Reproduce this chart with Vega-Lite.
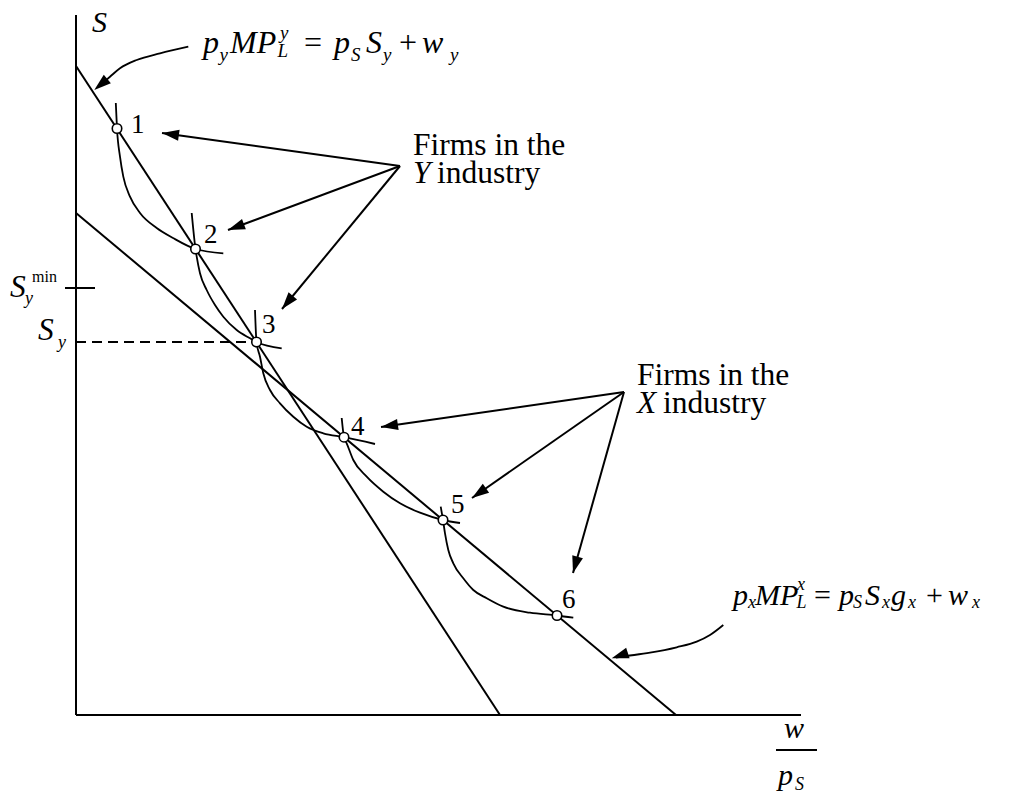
{
  "$schema": "https://vega.github.io/schema/vega-lite/v6.json",
  "width": 1031,
  "height": 797,
  "padding": 0,
  "autosize": {"type": "none"},
  "background": "white",
  "config": {"view": {"stroke": null}},
  "datasets": {
    "segs": [
      {"x": 0, "y": 0, "x2": 0, "y2": 700},
      {"x": 0, "y": 0, "x2": 725, "y2": 0},
      {"x": 0, "y": 649, "x2": 424, "y2": 0},
      {"x": 0, "y": 502, "x2": 600, "y2": 0},
      {"x": -11, "y": 427, "x2": 19, "y2": 427},
      {"x": 700, "y": -35, "x2": 741, "y2": -35},
      {"x": 324, "y": 549, "x2": 86, "y2": 582},
      {"x": 324, "y": 549, "x2": 152, "y2": 485},
      {"x": 324, "y": 549, "x2": 206, "y2": 406},
      {"x": 548, "y": 323, "x2": 305, "y2": 288},
      {"x": 548, "y": 323, "x2": 396, "y2": 217},
      {"x": 548, "y": 323, "x2": 497, "y2": 142}
    ],
    "dashed": [{"x": 0, "x2": 180.5, "y": 373}],
    "curves": [
      {"c": "A", "x": 39.8, "y": 612}, {"c": "A", "x": 41, "y": 586.5}, {"c": "A", "x": 44, "y": 558.3}, {"c": "A", "x": 47.3, "y": 538.3}, {"c": "A", "x": 54, "y": 518.3}, {"c": "A", "x": 64, "y": 502}, {"c": "A", "x": 80.7, "y": 487}, {"c": "A", "x": 97, "y": 477}, {"c": "A", "x": 119.5, "y": 466}, {"c": "A", "x": 147.3, "y": 461.7},
      {"c": "B", "x": 115.7, "y": 502}, {"c": "B", "x": 119.5, "y": 466}, {"c": "B", "x": 120.7, "y": 458.3}, {"c": "B", "x": 124, "y": 441.7}, {"c": "B", "x": 130.7, "y": 425}, {"c": "B", "x": 139, "y": 410}, {"c": "B", "x": 147.3, "y": 398.3}, {"c": "B", "x": 160.7, "y": 385}, {"c": "B", "x": 174, "y": 376.7}, {"c": "B", "x": 180.5, "y": 373}, {"c": "B", "x": 205.7, "y": 366.7},
      {"c": "C", "x": 179, "y": 405}, {"c": "C", "x": 180.5, "y": 373}, {"c": "C", "x": 184, "y": 358.3}, {"c": "C", "x": 187.3, "y": 341.7}, {"c": "C", "x": 194, "y": 325}, {"c": "C", "x": 204, "y": 311.7}, {"c": "C", "x": 217.3, "y": 298.3}, {"c": "C", "x": 230.7, "y": 288.3}, {"c": "C", "x": 247.3, "y": 281.7}, {"c": "C", "x": 268, "y": 277.8}, {"c": "C", "x": 299, "y": 271},
      {"c": "D", "x": 265.7, "y": 297}, {"c": "D", "x": 268, "y": 277.8}, {"c": "D", "x": 270.7, "y": 271.7}, {"c": "D", "x": 277.3, "y": 255}, {"c": "D", "x": 290.7, "y": 238.3}, {"c": "D", "x": 307.3, "y": 223.3}, {"c": "D", "x": 324, "y": 211.7}, {"c": "D", "x": 344, "y": 202.3}, {"c": "D", "x": 367, "y": 195}, {"c": "D", "x": 384, "y": 192},
      {"c": "E", "x": 364.7, "y": 208.3}, {"c": "E", "x": 367, "y": 195}, {"c": "E", "x": 369, "y": 181.7}, {"c": "E", "x": 372.3, "y": 165}, {"c": "E", "x": 377.3, "y": 151.7}, {"c": "E", "x": 387.3, "y": 136.7}, {"c": "E", "x": 397.3, "y": 125}, {"c": "E", "x": 410.7, "y": 116.7}, {"c": "E", "x": 427.3, "y": 108.3}, {"c": "E", "x": 454, "y": 102.3}, {"c": "E", "x": 481, "y": 99.5}, {"c": "E", "x": 497.3, "y": 97.3},
      {"c": "AY", "x": 22, "y": 628}, {"c": "AY", "x": 34, "y": 638.3}, {"c": "AY", "x": 44, "y": 646.7}, {"c": "AY", "x": 60.7, "y": 655}, {"c": "AY", "x": 84, "y": 661.7}, {"c": "AY", "x": 112.3, "y": 668.3},
      {"c": "AX", "x": 540, "y": 57.5}, {"c": "AX", "x": 550.7, "y": 59}, {"c": "AX", "x": 574, "y": 62.3}, {"c": "AX", "x": 600.7, "y": 67.7}, {"c": "AX", "x": 620.7, "y": 73.3}, {"c": "AX", "x": 634, "y": 80}, {"c": "AX", "x": 647.3, "y": 90}
    ],
    "firms": [
      {"x": 41, "y": 586.5}, {"x": 119.5, "y": 466}, {"x": 180.5, "y": 373},
      {"x": 268, "y": 277.8}, {"x": 367, "y": 195}, {"x": 481, "y": 99.5}
    ],
    "heads": [
      {"x": 86, "y": 582, "dir": 187.9},
      {"x": 152, "y": 485, "dir": 159.6},
      {"x": 206, "y": 406, "dir": 129.5},
      {"x": 305, "y": 288, "dir": 171.8},
      {"x": 396, "y": 217, "dir": 145.1},
      {"x": 497, "y": 142, "dir": 105.7},
      {"x": 18.3, "y": 625, "dir": 140},
      {"x": 535.7, "y": 56.7, "dir": 162}
    ],
    "eqY": [
      {"t": "p", "x": 127, "y": 662}, {"t": "MP", "x": 154, "y": 662}, {"t": "p", "x": 258, "y": 662}, {"t": "S", "x": 290, "y": 662}, {"t": "w", "x": 346, "y": 662}
    ],
    "eqYops": [
      {"t": "=", "x": 228, "y": 662}, {"t": "+", "x": 323, "y": 662}
    ],
    "eqYsub": [
      {"t": "y", "x": 143.5, "y": 654}, {"t": "L", "x": 201.5, "y": 658}, {"t": "y", "x": 204, "y": 676}, {"t": "S", "x": 275, "y": 654}, {"t": "y", "x": 307, "y": 654}, {"t": "y", "x": 374, "y": 654}
    ],
    "bigItalic": [
      {"t": "S", "x": 16, "y": 683.5},
      {"t": "p", "x": 657, "y": 110}, {"t": "MP", "x": 679, "y": 110}, {"t": "p", "x": 763, "y": 110}, {"t": "S", "x": 789, "y": 110}, {"t": "g", "x": 815, "y": 110}, {"t": "w", "x": 872, "y": 110},
      {"t": "w", "x": 708, "y": -23}, {"t": "p", "x": 702, "y": -70}
    ],
    "ops": [
      {"t": "=", "x": 738, "y": 110}, {"t": "+", "x": 850, "y": 110}
    ],
    "digits": [
      {"t": "1", "x": 55, "y": 582}, {"t": "2", "x": 128, "y": 472}, {"t": "3", "x": 186, "y": 382},
      {"t": "4", "x": 275, "y": 280}, {"t": "5", "x": 375, "y": 202}, {"t": "6", "x": 486, "y": 107}
    ],
    "smallItalic": [
      {"t": "x", "x": 672, "y": 107}, {"t": "x", "x": 721, "y": 125}, {"t": "L", "x": 720.5, "y": 107}, {"t": "S", "x": 777, "y": 107}, {"t": "x", "x": 806, "y": 107}, {"t": "x", "x": 832, "y": 107}, {"t": "x", "x": 896, "y": 107},
      {"t": "y", "x": -51, "y": 411}, {"t": "y", "x": -18, "y": 367}, {"t": "S", "x": 719, "y": -75}
    ],
    "labelItalic": [
      {"t": "S", "x": -66, "y": 418}, {"t": "S", "x": -38, "y": 375},
      {"t": "Y", "x": 337, "y": 532}, {"t": "X", "x": 561, "y": 302}
    ],
    "labelRoman": [
      {"t": "Firms in the", "x": 337, "y": 560}, {"t": "industry", "x": 361, "y": 532},
      {"t": "Firms in the", "x": 561, "y": 330}, {"t": "industry", "x": 587, "y": 302}
    ],
    "smallRoman": [{"t": "min", "x": -44, "y": 433}]
  },
  "layer": [
    {
      "data": {"name": "segs"},
      "mark": {"type": "rule", "color": "black", "strokeWidth": 2},
      "encoding": {
        "x": {"field": "x", "type": "quantitative", "scale": {"domain": [-76, 955], "nice": false, "zero": false}, "axis": null},
        "y": {"field": "y", "type": "quantitative", "scale": {"domain": [-82, 715], "nice": false, "zero": false}, "axis": null},
        "x2": {"field": "x2"},
        "y2": {"field": "y2"}
      }
    },
    {
      "data": {"name": "dashed"},
      "mark": {"type": "rule", "color": "black", "strokeWidth": 1.8, "strokeDash": [10, 6]},
      "encoding": {
        "x": {"field": "x", "type": "quantitative"},
        "x2": {"field": "x2"},
        "y": {"field": "y", "type": "quantitative"}
      }
    },
    {
      "data": {"name": "curves"},
      "mark": {"type": "line", "color": "black", "strokeWidth": 1.8, "interpolate": "monotone"},
      "encoding": {
        "x": {"field": "x", "type": "quantitative"},
        "y": {"field": "y", "type": "quantitative"},
        "detail": {"field": "c", "type": "nominal"}
      }
    },
    {
      "data": {"name": "heads"},
      "mark": {"type": "point", "shape": "M0,0L-2,-0.65L-2,0.65Z", "filled": true, "color": "black", "size": 289, "opacity": 1},
      "encoding": {
        "x": {"field": "x", "type": "quantitative"},
        "y": {"field": "y", "type": "quantitative"},
        "angle": {"field": "dir", "type": "quantitative", "scale": null}
      }
    },
    {
      "data": {"name": "firms"},
      "mark": {"type": "point", "shape": "circle", "filled": true, "fill": "white", "stroke": "black", "strokeWidth": 1.6, "size": 90, "opacity": 1},
      "encoding": {
        "x": {"field": "x", "type": "quantitative"},
        "y": {"field": "y", "type": "quantitative"}
      }
    },
    {
      "data": {"name": "eqY"},
      "mark": {"type": "text", "font": "Liberation Serif", "fontStyle": "italic", "fontSize": 32, "align": "left", "baseline": "alphabetic", "color": "black"},
      "encoding": {
        "x": {"field": "x", "type": "quantitative"},
        "y": {"field": "y", "type": "quantitative"},
        "text": {"field": "t"}
      }
    },
    {
      "data": {"name": "eqYops"},
      "mark": {"type": "text", "font": "Liberation Serif", "fontSize": 32, "align": "left", "baseline": "alphabetic", "color": "black"},
      "encoding": {
        "x": {"field": "x", "type": "quantitative"},
        "y": {"field": "y", "type": "quantitative"},
        "text": {"field": "t"}
      }
    },
    {
      "data": {"name": "eqYsub"},
      "mark": {"type": "text", "font": "Liberation Serif", "fontStyle": "italic", "fontSize": 19, "align": "left", "baseline": "alphabetic", "color": "black"},
      "encoding": {
        "x": {"field": "x", "type": "quantitative"},
        "y": {"field": "y", "type": "quantitative"},
        "text": {"field": "t"}
      }
    },
    {
      "data": {"name": "bigItalic"},
      "mark": {"type": "text", "font": "Liberation Serif", "fontStyle": "italic", "fontSize": 30, "align": "left", "baseline": "alphabetic", "color": "black"},
      "encoding": {
        "x": {"field": "x", "type": "quantitative"},
        "y": {"field": "y", "type": "quantitative"},
        "text": {"field": "t"}
      }
    },
    {
      "data": {"name": "ops"},
      "mark": {"type": "text", "font": "Liberation Serif", "fontSize": 30, "align": "left", "baseline": "alphabetic", "color": "black"},
      "encoding": {
        "x": {"field": "x", "type": "quantitative"},
        "y": {"field": "y", "type": "quantitative"},
        "text": {"field": "t"}
      }
    },
    {
      "data": {"name": "digits"},
      "mark": {"type": "text", "font": "Liberation Serif", "fontSize": 27, "align": "left", "baseline": "alphabetic", "color": "black"},
      "encoding": {
        "x": {"field": "x", "type": "quantitative"},
        "y": {"field": "y", "type": "quantitative"},
        "text": {"field": "t"}
      }
    },
    {
      "data": {"name": "smallItalic"},
      "mark": {"type": "text", "font": "Liberation Serif", "fontStyle": "italic", "fontSize": 18, "align": "left", "baseline": "alphabetic", "color": "black"},
      "encoding": {
        "x": {"field": "x", "type": "quantitative"},
        "y": {"field": "y", "type": "quantitative"},
        "text": {"field": "t"}
      }
    },
    {
      "data": {"name": "labelItalic"},
      "mark": {"type": "text", "font": "Liberation Serif", "fontStyle": "italic", "fontSize": 31.5, "align": "left", "baseline": "alphabetic", "color": "black"},
      "encoding": {
        "x": {"field": "x", "type": "quantitative"},
        "y": {"field": "y", "type": "quantitative"},
        "text": {"field": "t"}
      }
    },
    {
      "data": {"name": "labelRoman"},
      "mark": {"type": "text", "font": "Liberation Serif", "fontSize": 31.5, "align": "left", "baseline": "alphabetic", "color": "black"},
      "encoding": {
        "x": {"field": "x", "type": "quantitative"},
        "y": {"field": "y", "type": "quantitative"},
        "text": {"field": "t"}
      }
    },
    {
      "data": {"name": "smallRoman"},
      "mark": {"type": "text", "font": "Liberation Serif", "fontSize": 16, "align": "left", "baseline": "alphabetic", "color": "black"},
      "encoding": {
        "x": {"field": "x", "type": "quantitative"},
        "y": {"field": "y", "type": "quantitative"},
        "text": {"field": "t"}
      }
    }
  ]
}
